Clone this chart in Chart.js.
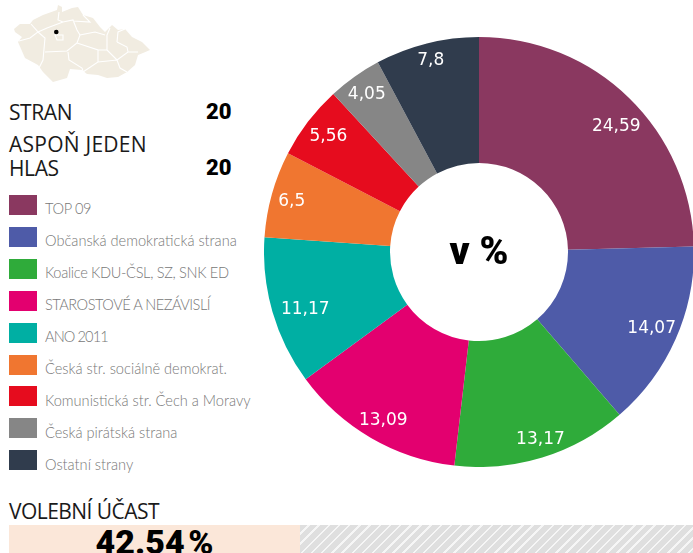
<!DOCTYPE html>
<html><head><meta charset="utf-8">
<script src="https://cdn.jsdelivr.net/npm/chart.js@4"></script>
<style>
html,body{margin:0;padding:0;background:#fff;overflow:hidden;width:693px;height:553px}
body{position:relative;font-family:Roboto,sans-serif;color:#111}
.t{position:absolute;white-space:nowrap}
.h{left:9px;font:400 21px/24px "Open Sans",Roboto,sans-serif;letter-spacing:-.4px;color:#1a1a1a}
.n{left:206px;font:900 22px/24px Roboto,sans-serif;color:#000}
#chartwrap{position:absolute;left:264px;top:37px;width:430px;height:430px}
#leg{position:absolute;left:0;top:0}
.sw{position:absolute;left:9px;width:28px;height:20px}
.lb{position:absolute;left:45px;white-space:nowrap;font:300 14.6px/20px Lato,sans-serif;color:#777}
#center{position:absolute;left:390px;top:229px;width:178px;text-align:center;font:900 39px/44px Roboto,sans-serif;color:#000}
#bar1{position:absolute;left:9px;top:525px;width:291px;height:28px;background:#fbe7d9;overflow:hidden;text-align:center;font:900 34px/35px Roboto,sans-serif;color:#000;word-spacing:-5px}
#bar2{position:absolute;left:300px;top:525px;width:393px;height:28px;
background:repeating-linear-gradient(135deg,#dfdfdf 0,#dfdfdf 5.5px,#f6f6f6 5.5px,#f6f6f6 7.2px)}
</style></head><body>
<svg style="position:absolute;left:0;top:0" width="160" height="90">
<path d="M14 29L20 24 30 24 33 20 43 15 57 10 58 5 62 7 62 12 72 8 78 7 83 15 93 18 100 27 105 32 112 25 118 30 125 29 132 37 142 42 150 50 143 53 138 55 135 65 127 72 118 77 107 78 98 75 87 74 82 70 70 69 67 78 53 82 43 72 38 65 25 58 18 42 22 37 15 32Z" fill="#f1ece1"/>
<g fill="none" stroke="#fff" stroke-width="1.1">
<path d="M19 41L30 38 38 32 31 24M38 32L47 28 63 22 58 20 59 12M63 22L73 20 77 30 80 35M73 21L90 22 83 15"/>
<path d="M38 32L45 38 43 60 38 70M45 52L67 51 77 43 80 35 95 32 105 35M68 52L69 60 82 68 83 71M77 43L98 50 98 62 83 72M98 50L107 50 107 35 110 28M107 50L117 60 128 52 138 52M117 42L127 47 128 52M117 42L118 32 125 29M98 62L117 60 120 68 127 72"/>
<path d="M55 35L63 35 63 40 57 40Z"/>
</g>
<circle cx="56.3" cy="32" r="2.3" fill="#000"/>
</svg>
<div class="t h" style="top:100px">STRAN</div><div class="t n" style="top:100px">20</div>
<div class="t h" style="top:132px;letter-spacing:.25px">ASPOŇ JEDEN</div>
<div class="t h" style="top:156px">HLAS</div><div class="t n" style="top:156px">20</div>
<div id="leg"></div>
<div id="chartwrap"><canvas id="c" width="430" height="430"></canvas></div>
<div id="center">v %</div>
<div class="t h" style="top:499px;letter-spacing:-.55px">VOLEBNÍ ÚČAST</div>
<div id="bar1">42.54 %</div><div id="bar2"></div>
<script>
const parties=["TOP 09","Občanská demokratická strana","Koalice KDU-ČSL, SZ, SNK ED","STAROSTOVÉ A NEZÁVISLÍ","ANO 2011","Česká str. sociálně demokrat.","Komunistická str. Čech a Moravy","Česká pirátská strana","Ostatní strany"];
const shares=[24.59,14.07,13.17,13.09,11.17,6.5,5.56,4.05,7.8];
const shareLabels=["24,59","14,07","13,17","13,09","11,17","6,5","5,56","4,05","7,8"];
const colors=["#8a3860","#4e5ba8","#2fab3a","#e3006f","#00afa3","#f07630","#e60c1e","#868686","#303c4d"];
const legendTracking=[-.35,0,-.33,-.5,-.9,0,0,0,0];
const labelNudge=[[7,8],[5,2],[4,1],[0,4],[2,7],[-1,2],[0,-1],[-1,-1],[0,2]];
const leg=document.getElementById('leg');
parties.forEach((p,i)=>{
 const top=Math.round(195+i*31.9);
 leg.insertAdjacentHTML('beforeend',`<div class="sw" style="top:${top}px;background:${colors[i]}"></div><div class="lb" style="top:${199+i*32}px;letter-spacing:${legendTracking[i]}px">${p}</div>`);
});
const labelPlugin={id:'sliceLabels',afterDatasetsDraw(chart){
 const ctx=chart.ctx,meta=chart.getDatasetMeta(0);
 ctx.save();ctx.fillStyle='#fff';ctx.font='400 17px "DejaVu Sans",sans-serif';ctx.textAlign='center';ctx.textBaseline='middle';
 meta.data.forEach((arc,i)=>{
  const mid=(arc.startAngle+arc.endAngle)/2;
  const hw=ctx.measureText(shareLabels[i]).width/2;
  const r=arc.outerRadius-7-hw*Math.abs(Math.cos(mid))-6*Math.abs(Math.sin(mid));
  ctx.fillText(shareLabels[i],arc.x+Math.cos(mid)*r+labelNudge[i][0],arc.y+Math.sin(mid)*r+labelNudge[i][1]);
 });
 ctx.restore();
}};
new Chart(document.getElementById('c'),{type:'doughnut',
 data:{labels:parties,datasets:[{data:shares,backgroundColor:colors,borderWidth:0}]},
 options:{responsive:false,animation:false,cutout:89,layout:{padding:0},
  plugins:{legend:{display:false},tooltip:{enabled:false}}},
 plugins:[labelPlugin]});
</script>
</body></html>
